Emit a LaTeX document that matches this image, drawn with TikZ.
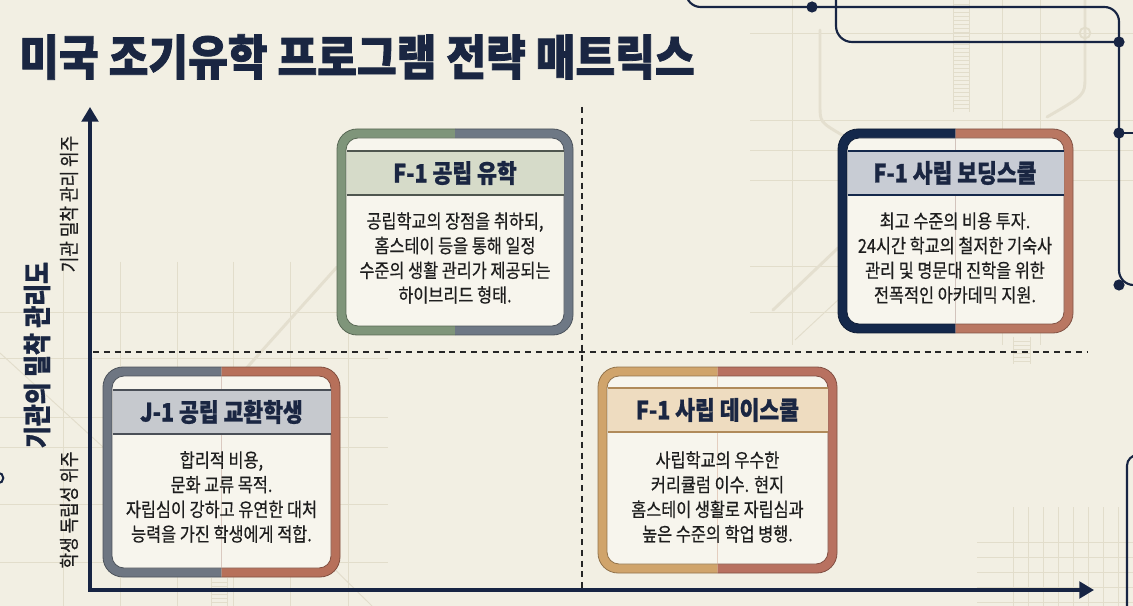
\documentclass[tikz,border=0pt]{standalone}
\usepackage{fontspec}
\usetikzlibrary{arrows.meta}
\newfontfamily\krfont{Noto Sans CJK KR}[FakeStretch=0.85, UprightFeatures={FakeBold=0.5}, BoldFeatures={FakeBold=1}]
\newfontfamily\krtitle{Noto Sans CJK KR}[FakeStretch=0.9, BoldFeatures={FakeBold=1.6}]
\definecolor{bg}{HTML}{F2EFE3}
\definecolor{navy}{HTML}{172443}
\definecolor{titlec}{HTML}{1A2642}
\definecolor{bodyc}{HTML}{1E1E1E}
\definecolor{innerc}{HTML}{F7F5ED}
\definecolor{fc}{HTML}{E2DDCB}
\definecolor{fcw}{HTML}{E4DFCF}
\definecolor{gA}{HTML}{7F957A}
\definecolor{sA}{HTML}{6E7885}
\definecolor{hA}{HTML}{D6DBC9}
\definecolor{lA}{HTML}{4F564F}
\definecolor{nB}{HTML}{14284B}
\definecolor{tB}{HTML}{B97762}
\definecolor{hB}{HTML}{C8CCD4}
\definecolor{sC}{HTML}{6E7682}
\definecolor{tC}{HTML}{B7705A}
\definecolor{hC}{HTML}{C6C9CE}
\definecolor{lC}{HTML}{4A4F57}
\definecolor{yD}{HTML}{D0A46B}
\definecolor{tD}{HTML}{B87160}
\definecolor{hD}{HTML}{EEDCC0}
\definecolor{lD}{HTML}{B08A5A}
\newcommand\quadbox[9]{%
  \pgfmathsetmacro\qmx{(#1+#3)/2}%
  \begin{scope}
    \clip (#1-8,#2-8) rectangle (\qmx,#4+8);
    \fill[#5, rounded corners=15pt] (#1,#2) rectangle (#3,#4);
    \draw[#5!70!black, line width=0.6pt, rounded corners=15pt] (#1,#2) rectangle (#3,#4);
    \fill[innerc, rounded corners=9pt] (#1+9,#2+9) rectangle (#3-9,#4-9);
    \draw[#5!70!black, line width=0.6pt, rounded corners=9pt] (#1+9,#2+9) rectangle (#3-9,#4-9);
  \end{scope}
  \begin{scope}
    \clip (\qmx,#2-8) rectangle (#3+8,#4+8);
    \fill[#6, rounded corners=15pt] (#1,#2) rectangle (#3,#4);
    \draw[#6!70!black, line width=0.6pt, rounded corners=15pt] (#1,#2) rectangle (#3,#4);
    \fill[innerc, rounded corners=9pt] (#1+9,#2+9) rectangle (#3-9,#4-9);
    \draw[#6!70!black, line width=0.6pt, rounded corners=9pt] (#1+9,#2+9) rectangle (#3-9,#4-9);
  \end{scope}
  \fill[#7] (#1+9.5,#9) rectangle (#3-9.5,#9+44);
  \draw[#8, line width=1.1pt] (#1+9.5,#9) -- (#3-9.5,#9) (#1+9.5,#9+44) -- (#3-9.5,#9+44);
}
\begin{document}
\begin{tikzpicture}[x=0.75pt,y=-0.75pt,
  faint/.style={draw=fc, line width=0.7pt},
  faintw/.style={draw=fcw, line width=2.2pt, line cap=round},
  metro/.style={draw=navy, line width=1.6pt},
  axisln/.style={draw=navy, line width=2.3pt},
  dashln/.style={draw=black!85, line width=1.1pt, dash pattern=on 4.5pt off 3.6pt},
  boxtitle/.style={font=\krfont\fontsize{19}{22}\selectfont\bfseries, text=titlec, inner sep=0pt},
  boxbody/.style={font=\krfont\fontsize{14.4}{18.5}\selectfont, text=bodyc, align=center, inner sep=0pt},
  ysmall/.style={font=\krfont\fontsize{15}{16}\selectfont, text=bodyc, rotate=90, inner sep=0pt},
  ybig/.style={font=\krfont\fontsize{21}{24}\selectfont\bfseries, text=titlec, rotate=90, inner sep=0pt}]
\useasboundingbox (0,0) rectangle (1133,606);
\fill[bg] (0,0) rectangle (1133,606);

% ---- faint background map ----
\foreach \x in {63,120,177,233,290,348} \draw[faint] (\x,262) -- (\x,606);
\draw[faint] (0,312) -- (340,312);
\foreach \y in {358,417,447,504,562} \draw[faint] (0,\y) -- (388,\y);
\foreach \y in {33,120,150,180} \draw[faint] (750,\y) -- (1133,\y);
\foreach \y in {266,312} \draw[faint] (750,\y) -- (840,\y);
\foreach \x in {792,1002,1040} \draw[faint] (\x,0) -- (\x,345);
\draw[faint] (953,0) -- (953,112) (969,0) -- (969,112);
\foreach \y in {4,8,...,108} \draw[faint] (953,\y) -- (969,\y);
\draw[faint] (1013,337) -- (1013,364) (1030,337) -- (1030,364);
\foreach \y in {341,345,...,361} \draw[faint] (1013,\y) -- (1030,\y);
\draw[faint] (211,578) -- (211,606) (227,578) -- (227,606);
\foreach \y in {582,586,...,604} \draw[faint] (211,\y) -- (227,\y);
\foreach \x in {1013,1028,...,1118} \draw[faint] (\x,507) -- (\x,606);
\foreach \y in {542,557,...,602} \draw[faint] (977,\y) -- (1133,\y);
\draw[faintw] (820,30) -- (820,105) .. controls (820,122) .. (842,135);
\draw[faintw] (1085,0) -- (1085,77) .. controls (1085,95) .. (1047,117);
\draw[faintw] (773,310) -- (838,248);
\draw[faint] (795,340) -- (838,300);
\draw[faintw] (200,420) -- (337,267);
\draw[faint] (0,353) -- (103,447);
\draw[faint] (310,545) -- (372,606);
\draw[faint, line width=1.4pt] (1085,33) circle (4pt);

% ---- metro lines ----
\draw[metro, rounded corners=11pt] (686,-15) |- (1119,7) -- (1119,285) -- (1140,285);
\draw[metro, rounded corners=12pt] (836,-15) |- (1119,42);
\draw[metro] (1119,133) -- (1140,133);
\draw[metro, rounded corners=8pt] (1127,612) |- (1140,455);
\foreach \p in {(812,7),(1119,42),(1119,133),(1119,285)} \fill[navy] \p circle (4.2pt);
\draw[navy, line width=1.5pt] (-2,478) circle (4pt);

% ---- title ----
\node[anchor=west, inner sep=0pt, text=titlec, font=\krtitle\fontsize{36}{40}\selectfont\bfseries] (title) at (19,57) {미국 조기유학 프로그램 전략 매트릭스};

% ---- axes ----
\coordinate (O) at (90,590);
\coordinate (ytop) at (90,107);
\coordinate (xend) at (1094,590);
\draw[axisln, {Triangle[length=11pt,width=12.5pt]}-{Triangle[length=11pt,width=12.5pt]}] (ytop) -- (O) -- (xend);
\coordinate (hl) at (93,352);
\coordinate (hr) at (1088,352);
\coordinate (vt) at (582,107);
\coordinate (vb) at (582,588);
\draw[dashln] (hl) -- (hr);
\draw[dashln] (vt) -- (vb);

\node[ysmall] (yhi) at (69,204) {기관 밀착 관리 위주};
\node[ysmall] (ylo) at (69,510) {학생 독립성 위주};
\node[ybig] (ylab) at (37,355) {기관의 밀착 관리도};

% ---- boxes ----
\quadbox{337}{129}{573}{335}{gA}{sA}{hA}{lA}{151}
\node[boxtitle] (t1) at (455,173) {F-1 공립 유학};
\node[boxbody] (b1) at (455,258) {공립학교의 장점을 취하되,\\홈스테이 등을 통해 일정\\수준의 생활 관리가 제공되는\\하이브리드 형태.};

\quadbox{838}{129}{1073}{333}{nB}{tB}{hB}{nB}{151}
\node[boxtitle] (t2) at (955,173) {F-1 사립 보딩스쿨};
\node[boxbody] (b2) at (955,258) {최고 수준의 비용 투자.\\24시간 학교의 철저한 기숙사\\관리 및 명문대 진학을 위한\\전폭적인 아카데믹 지원.};

\quadbox{103}{367}{340}{577}{sC}{tC}{hC}{lC}{390}
\node[boxtitle] (t3) at (221.5,412) {J-1 공립 교환학생};
\node[boxbody] (b3) at (221.5,497) {합리적 비용,\\문화 교류 목적.\\자립심이 강하고 유연한 대처\\능력을 가진 학생에게 적합.};

\quadbox{598}{367}{837}{573}{yD}{tD}{hD}{lD}{388}
\node[boxtitle] (t4) at (717.5,410) {F-1 사립 데이스쿨};
\node[boxbody] (b4) at (717.5,497) {사립학교의 우수한\\커리큘럼 이수. 현지\\홈스테이 생활로 자립심과\\높은 수준의 학업 병행.};
\end{tikzpicture}
\end{document}
